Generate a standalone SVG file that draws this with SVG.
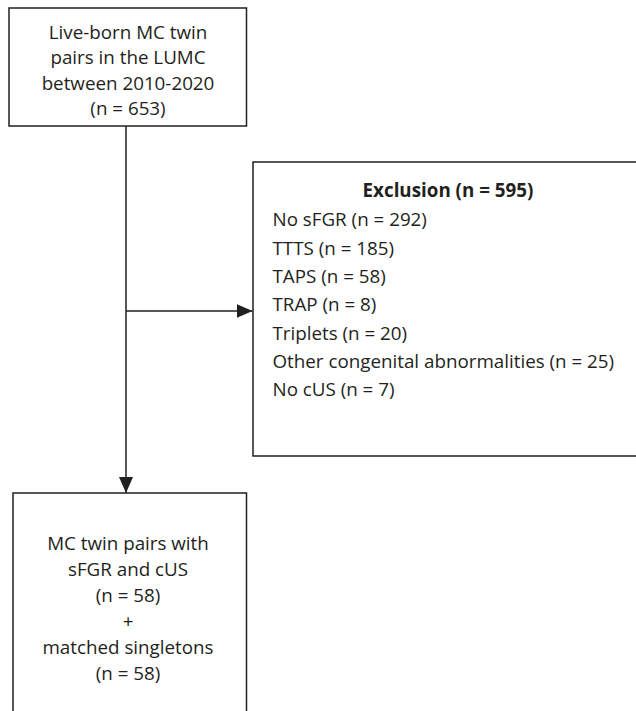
<svg xmlns="http://www.w3.org/2000/svg" width="636" height="711" viewBox="0 0 636 711">
<defs>
<style>
.box{fill:#fff;stroke:#231f20;stroke-width:1.5}
.ln{stroke:#231f20;stroke-width:1.5;fill:none}
.t{font-family:"Open Sans","Noto Sans",sans-serif;font-size:18.8px;fill:#231f20}
.c{text-anchor:middle}
.b{font-weight:bold}
</style>
<marker id="ah" markerWidth="16" markerHeight="14" refX="16" refY="7" orient="auto" markerUnits="userSpaceOnUse">
<path d="M0,0 L16,7 L0,14 Z" fill="#231f20"/>
</marker>
</defs>
<rect width="636" height="711" fill="#fff"/>
<g id="connectors">
<line class="ln" x1="126" y1="126" x2="126" y2="493" marker-end="url(#ah)"/>
<line class="ln" x1="126" y1="311" x2="252.5" y2="311" marker-end="url(#ah)"/>
</g>
<g id="start">
<rect class="box" x="9" y="8" width="237.5" height="118"/>
<text class="t c" x="128" y="39">Live-born MC twin</text>
<text class="t c" x="128" y="64">pairs in the LUMC</text>
<text class="t c" x="128" y="90">between 2010-2020</text>
<text class="t c" x="128" y="115">(n = 653)</text>
</g>
<g id="exclusion">
<path class="ln" d="M637,162 L253,162 L253,456 L637,456"/>
<text class="t c b" x="448" y="197">Exclusion (n = 595)</text>
<text class="t" x="272.5" y="226">No sFGR (n = 292)</text>
<text class="t" x="272.5" y="254.5">TTTS (n = 185)</text>
<text class="t" x="272.5" y="283">TAPS (n = 58)</text>
<text class="t" x="272.5" y="311">TRAP (n = 8)</text>
<text class="t" x="272.5" y="339.5">Triplets (n = 20)</text>
<text class="t" x="272.5" y="367.5">Other congenital abnormalities (n = 25)</text>
<text class="t" x="272.5" y="396">No cUS (n = 7)</text>
</g>
<g id="result">
<path class="ln" d="M13,712 L13,493 L246.5,493 L246.5,712"/>
<text class="t c" x="128" y="550">MC twin pairs with</text>
<text class="t c" x="128" y="576">sFGR and cUS</text>
<text class="t c" x="128" y="602">(n = 58)</text>
<text class="t c" x="128" y="628">+</text>
<text class="t c" x="128" y="654">matched singletons</text>
<text class="t c" x="128" y="680">(n = 58)</text>
</g>
</svg>
